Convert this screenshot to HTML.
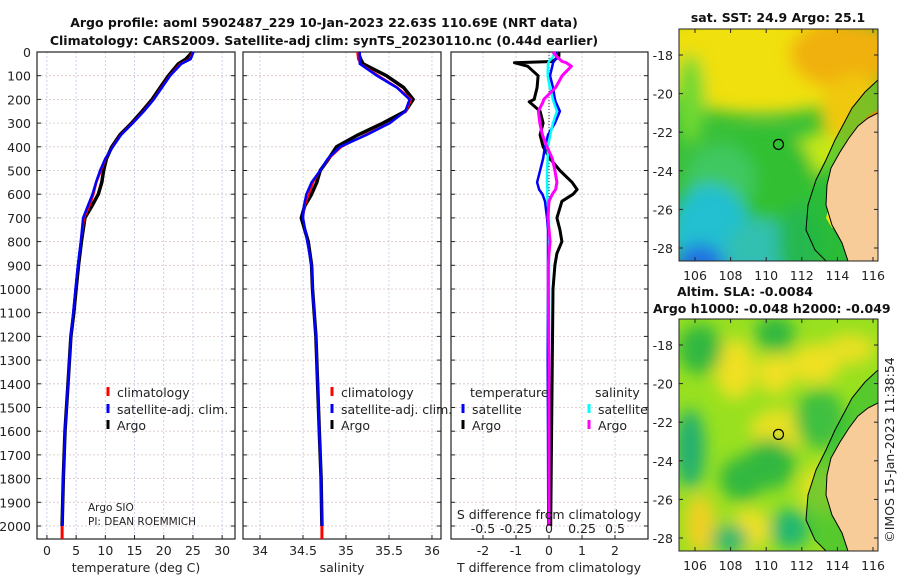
<!DOCTYPE html>
<html><head><meta charset="utf-8"><style>
html,body{margin:0;padding:0;background:#fff;}
svg{display:block;font-family:"DejaVu Sans","Liberation Sans",sans-serif;}
.t{font-size:12.5px;fill:#222;}
.b{font-size:12.5px;font-weight:bold;fill:#111;}
</style></head><body>
<svg id="c" width="900" height="580" viewBox="0 0 900 580">
<defs>
<clipPath id="m1"><rect x="679" y="29" width="199" height="232"/></clipPath>
<clipPath id="m2"><rect x="679" y="319" width="199" height="232"/></clipPath>
<filter id="bl" x="-20%" y="-20%" width="140%" height="140%"><feGaussianBlur stdDeviation="8"/></filter>
</defs>
<text class="b" x="324" y="27" text-anchor="middle">Argo profile: aoml 5902487_229 10-Jan-2023 22.63S 110.69E (NRT data)</text>
<text class="b" x="324" y="45" text-anchor="middle">Climatology: CARS2009. Satellite-adj clim: synTS_20230110.nc (0.44d earlier)</text>
<g id="plots"></g>
<g id="maps"></g>
</svg>
<script>
// ---- data ----
const depthTicks=[0,100,200,300,400,500,600,700,800,900,1000,1100,1200,1300,1400,1500,1600,1700,1800,1900,2000];
const tTicks=[0,5,10,15,20,25,30];
const sTicks=[34,34.5,35,35.5,36];
const dTTicks=[-2,-1,0,1,2];
const dSTicks=[-0.5,-0.25,0,0.25,0.5];
const dSTickLabels=['-0.5','-0.25','0','0.25','0.5'];
const depths=[0,30,50,100,150,200,250,300,350,400,450,500,550,600,650,700,800,900,1000,1100,1200,1400,1600,1800,2000];
const tArgo=[24.9,23.8,22.5,20.8,19.4,18.0,16.3,14.5,12.5,11.1,10.2,9.7,9.4,8.8,7.7,6.5,5.9,5.4,5.0,4.6,4.1,3.6,3.1,2.8,2.6];
const tClim=[25.0,24.4,22.8,21.0,19.6,18.2,16.5,14.6,12.6,11.2,10.1,9.3,8.5,8.0,7.3,6.4,5.8,5.3,4.9,4.5,4.1,3.6,3.1,2.8,2.6];
const tSat =[25.1,24.6,23.0,21.1,19.7,18.3,16.6,14.7,12.7,11.3,10.0,9.1,8.4,7.8,7.0,6.2,5.8,5.3,4.9,4.5,4.1,3.6,3.1,2.8,2.6];
const sArgo=[35.14,35.17,35.2,35.47,35.67,35.78,35.69,35.43,35.14,34.89,34.8,34.7,34.66,34.6,34.52,34.48,34.56,34.6,34.61,34.63,34.65,34.67,34.69,34.71,34.72];
const sClim=[35.13,35.14,35.17,35.38,35.6,35.76,35.7,35.5,35.22,34.95,34.8,34.7,34.62,34.57,34.52,34.5,34.55,34.6,34.61,34.63,34.65,34.67,34.69,34.71,34.72];
const sSat =[35.16,35.16,35.16,35.36,35.59,35.74,35.69,35.51,35.24,34.93,34.79,34.7,34.6,34.54,34.51,34.5,34.55,34.6,34.61,34.63,34.65,34.67,34.69,34.71,34.72];
const dDepths=[0,20,40,45,60,100,150,200,210,250,300,350,400,450,500,550,580,600,630,700,750,800,850,900,1000,1300,1600,2000];
const dTArgo=[0.3,0.3,0.1,-1.05,-0.65,-0.33,-0.36,-0.45,-0.6,-0.27,-0.18,-0.27,-0.18,0.03,0.33,0.7,0.85,0.73,0.39,0.24,0.33,0.39,0.24,0.18,0.12,0.1,0.08,0.05];
const dTSat =[0.2,0.24,0.15,0.12,0.1,0.03,0.12,0.18,0.2,0.33,0.18,-0.03,-0.12,-0.18,-0.27,-0.36,-0.3,-0.2,-0.12,-0.06,-0.03,-0.03,-0.03,-0.03,-0.03,-0.04,-0.03,-0.02];
const dSSat =[0.045,0.03,0.0,-0.005,-0.008,-0.01,0.005,0.03,0.035,0.06,0.03,0.01,-0.008,-0.01,-0.015,-0.015,-0.012,-0.015,-0.01,0.0,0.0,0.0,0.0,0.0,0.0,0.0,0.0,0.0];
const dSArgo=[0.03,0.06,0.1,0.13,0.17,0.1,0.05,-0.04,-0.045,-0.08,-0.07,-0.05,-0.015,0.025,0.045,0.06,0.05,0.025,0.0,-0.008,0.0,0.008,0.0,-0.005,-0.005,0.0,0.0,0.0];

const NS='http://www.w3.org/2000/svg';
const root=document.getElementById('plots');
function mk(tag,attrs,parent){const e=document.createElementNS(NS,tag);for(const k in attrs)e.setAttribute(k,attrs[k]);(parent||root).appendChild(e);return e;}
const yD=d=>52+d*0.237;
const PB=539;
const panels=[
 {x0:37,x1:235,v0:-1.7,v1:32.2,name:'temperature'},
 {x0:243,x1:441,v0:33.802,v1:36.105,name:'salinity'},
 {x0:451,x1:648,v0:-2.97,v1:3.0,name:'difference'}];
function sx(p,v){return p.x0+(v-p.v0)/(p.v1-p.v0)*(p.x1-p.x0);}
const sxS=v=>549+v*132;

panels.forEach((p,i)=>{
  const g=mk('g',{});
  
  
  const ticks=i==0?tTicks:i==1?sTicks:dTTicks;
  ticks.forEach(t=>{const l=mk('line',{x1:sx(p,t),x2:sx(p,t),y1:52,y2:PB,stroke:'#c4c4ea','stroke-width':0.8,'stroke-dasharray':'2,2'},g);
    });
  depthTicks.forEach(d=>{const l=mk('line',{x1:p.x0,x2:p.x1,y1:yD(d),y2:yD(d),stroke:'#d8c4c4','stroke-width':0.8,'stroke-dasharray':'2,2'},g);
    
    mk('line',{x1:p.x0,x2:p.x0+4,y1:yD(d),y2:yD(d),stroke:'#222'},g);mk('line',{x1:p.x1-4,x2:p.x1,y1:yD(d),y2:yD(d),stroke:'#222'},g);});
  ticks.forEach((t,k)=>{mk('line',{x1:sx(p,t),x2:sx(p,t),y1:PB,y2:PB-4,stroke:'#222'},g);
    const tx=mk('text',{x:sx(p,t),y:555,'text-anchor':'middle',class:'t'},g);tx.textContent=t;
    });
  const fr=mk('rect',{x:p.x0,y:52,width:p.x1-p.x0,height:PB-52,fill:'none',stroke:'#222','stroke-width':1.2},g);
  
});
depthTicks.forEach(d=>{const t=mk('text',{x:31,y:yD(d)+5,'text-anchor':'end',class:'t'});t.textContent=d;
  });
const xt=[['temperature (deg C)',136],['salinity',342],['T difference from climatology',549]];
xt.forEach(a=>{const t=mk('text',{x:a[1],y:572,'text-anchor':'middle',class:'t'});t.textContent=a[0];
  });

function line(xs,ds,fx,color,w,name){
  const pts=xs.map((v,i)=>fx(v).toFixed(1)+','+yD(ds[i]).toFixed(1)).join(' ');
  const e=mk('polyline',{points:pts,fill:'none',stroke:color,'stroke-width':w,'stroke-linejoin':'round'});
  
  
}
const P0=panels[0],P1=panels[1];
line(tArgo,depths,v=>sx(P0,v),'#000',3.5,'temperature-argo-line');
line(tClim,depths,v=>sx(P0,v),'#f00',2,'temperature-climatology-line');
line(tSat,depths,v=>sx(P0,v),'#00f',2.5,'temperature-satellite-line');
line(sArgo,depths,v=>sx(P1,v),'#000',3.5,'salinity-argo-line');
line(sClim,depths,v=>sx(P1,v),'#f00',2,'salinity-climatology-line');
line(sSat,depths,v=>sx(P1,v),'#00f',2.5,'salinity-satellite-line');
mk('line',{x1:sx(P0,tClim[tClim.length-1]),x2:sx(P0,tClim[tClim.length-1]),y1:yD(2000),y2:PB,stroke:'#f00','stroke-width':3});
mk('line',{x1:sx(P1,sClim[sClim.length-1]),x2:sx(P1,sClim[sClim.length-1]),y1:yD(2000),y2:PB,stroke:'#f00','stroke-width':3});
const P2=panels[2];
mk('line',{x1:sx(P2,0),x2:sx(P2,0),y1:yD(0),y2:yD(2000),stroke:'#333','stroke-width':1,'stroke-dasharray':'1,2'});
line(dTArgo,dDepths,v=>sx(P2,v),'#000',3,'t-diff-argo-line');
line(dTSat,dDepths,v=>sx(P2,v),'#00f',2.5,'t-diff-satellite-line');
line(dSSat,dDepths,sxS,'#0ff',2.5,'s-diff-satellite-line');
line(dSArgo,dDepths,sxS,'#f0f',3,'s-diff-argo-line');
dSTicks.forEach((v,k)=>{const t=mk('text',{x:sxS(v),y:533,'text-anchor':'middle',class:'t'});t.textContent=dSTickLabels[k];
  });
{const t=mk('text',{x:549,y:519,'text-anchor':'middle',class:'t'});t.textContent='S difference from climatology';
 }
function leg(x,y,color,label,name){const g=mk('g',{});
  mk('line',{x1:x,x2:x,y1:y-10,y2:y-1,stroke:color,'stroke-width':3},g);
  const t=mk('text',{x:x+9,y:y,class:'t'},g);t.textContent=label;}
leg(108,397,'#f00','climatology','legend-climatology');
leg(108,414,'#00f','satellite-adj. clim.','legend-satellite-adj');
leg(108,430,'#000','Argo','legend-argo');
leg(332,397,'#f00','climatology','legend-climatology');
leg(332,414,'#00f','satellite-adj. clim.','legend-satellite-adj');
leg(332,430,'#000','Argo','legend-argo');
{const t=mk('text',{x:470,y:397,class:'t'});t.textContent='temperature';}
{const t=mk('text',{x:595,y:397,class:'t'});t.textContent='salinity';}
leg(463,414,'#00f','satellite','legend-t-satellite');
leg(463,430,'#000','Argo','legend-t-argo');
leg(589,414,'#0ff','satellite','legend-s-satellite');
leg(589,430,'#f0f','Argo','legend-s-argo');
{const t=mk('text',{x:88,y:511,style:'font-size:10.5px',fill:'#222'});t.textContent='Argo SIO';}
{const t=mk('text',{x:88,y:525,style:'font-size:10.5px',fill:'#222'});t.textContent='PI: DEAN ROEMMICH';}

// ---- maps ----
const mroot=document.getElementById('maps');
const lonTicks=[106,108,110,112,114,116];
const latTicks=[-18,-20,-22,-24,-26,-28];
function buildMap(oy,clip,blobs,base,name){
  const g=mk('g',{},mroot);
  const cg=mk('g',{'clip-path':'url(#'+clip+')'},g);
  mk('rect',{x:679,y:oy,width:199,height:232,fill:base},cg);
  const bg=mk('g',{filter:'url(#bl)'},cg);
  blobs.forEach(b=>mk('ellipse',{cx:b[0],cy:b[1]+oy,rx:b[2],ry:b[3],fill:b[4]},bg));
  const o=oy-29;
  const shelf=[[878,80],[865,92],[852,108],[843,125],[835,140],[826,160],[816,180],[808,205],[806,230],[815,250],[826,261]];
  const coast=[[878,113],[868,118],[858,126],[849,138],[840,152],[831,168],[827,185],[826,205],[832,225],[842,243],[848,261]];
  mk('polygon',{points:shelf.concat([[878,261]]).map(p=>p[0]+','+(p[1]+o)).join(' '),fill:'#20b838','opacity':0.55},cg);
  if(name=='sst-map'){mk('polygon',{points:[[878,110],[868,116],[860,124],[855,132],[866,126],[878,118]].map(p=>p[0]+','+(p[1]+o)).join(' '),fill:'#e08a10'},cg);
    mk('polygon',{points:[[828,210],[836,212],[840,226],[832,228],[826,218]].map(p=>p[0]+','+(p[1]+o)).join(' '),fill:'#f0e010'},cg);}
  mk('polyline',{points:shelf.map(p=>p[0]+','+(p[1]+o)).join(' '),fill:'none',stroke:'#000','stroke-width':1},cg);
  const land=mk('polygon',{points:coast.concat([[878,261]]).map(p=>p[0]+','+(p[1]+o)).join(' '),fill:'#f8cc98',stroke:'#000','stroke-width':1},cg);
  
  const mark=mk('circle',{cx:sxLon(110.69),cy:syLat(-22.63,oy),r:5,fill:'none',stroke:'#000','stroke-width':1.2},g);
  
  mk('rect',{x:679,y:oy,width:199,height:232,fill:'none',stroke:'#222','stroke-width':1},g);
  latTicks.forEach(l=>{const y=syLat(l,oy);mk('line',{x1:679,x2:683,y1:y,y2:y,stroke:'#222'},g);mk('line',{x1:874,x2:878,y1:y,y2:y,stroke:'#222'},g);
    const t=mk('text',{x:673,y:y+5,'text-anchor':'end',class:'t'},g);t.textContent=l;});
  lonTicks.forEach(l=>{const x=sxLon(l);mk('line',{x1:x,x2:x,y1:oy+232,y2:oy+228,stroke:'#222'},g);mk('line',{x1:x,x2:x,y1:oy,y2:oy+4,stroke:'#222'},g);
    const t=mk('text',{x:x,y:oy+251,'text-anchor':'middle',class:'t'},g);t.textContent=l;});
}
function sxLon(l){return 695+(l-106)*17.8;}
function syLat(l,oy){return oy+26+(-18-l)*19.3;}
buildMap(29,'m1',[
 [760,30,120,55,'#f0e010'],[845,25,55,35,'#f0b010'],[855,85,35,40,'#f0c810'],[690,70,15,45,'#70d830'],[820,125,30,20,'#c8e818'],
 [765,150,50,50,'#30c030'],[720,150,35,35,'#40c860'],
 [710,205,40,50,'#20c0d0'],[760,225,35,35,'#30c0b0'],[700,240,25,25,'#2070e0'],[745,252,35,12,'#30a8e0'],[800,215,22,40,'#28b850']
],'#38c038','sst-map');
buildMap(319,'m2',[
 [735,50,20,30,'#f0e020'],[775,55,18,20,'#f0e020'],[815,45,25,20,'#f0e020'],[780,110,30,20,'#e8e020'],[700,205,15,30,'#f0d020'],[750,210,20,20,'#f0e020'],[825,170,25,25,'#e8e020'],[850,30,25,15,'#e8e020'],
 [700,30,22,25,'#30b840'],[775,15,20,18,'#30b840'],[690,130,15,40,'#20b070'],[770,145,25,25,'#30b840'],[742,160,22,22,'#30b840'],[790,210,20,20,'#20b870'],[730,220,18,15,'#30b870'],[820,100,25,30,'#40c040']
],'#98e020','sla-map');
function txt(x,y,s,cls,name,extra){const t=mk('text',Object.assign({x:x,y:y,class:cls},extra||{}),mroot);t.textContent=s;return t;}
txt(778,22,'sat. SST: 24.9 Argo: 25.1','b','sst-map-title',{'text-anchor':'middle'});
txt(677,296,'Altim. SLA: -0.0084','b','sla-map-title');
txt(653,313,'Argo h1000: -0.048 h2000: -0.049','b','sla-map-subtitle');
txt(894,450,'©IMOS 15-Jan-2023 11:38:54','t','timestamp-label',{'text-anchor':'middle',transform:'rotate(-90 894 450)'});
</script>
</body></html>
